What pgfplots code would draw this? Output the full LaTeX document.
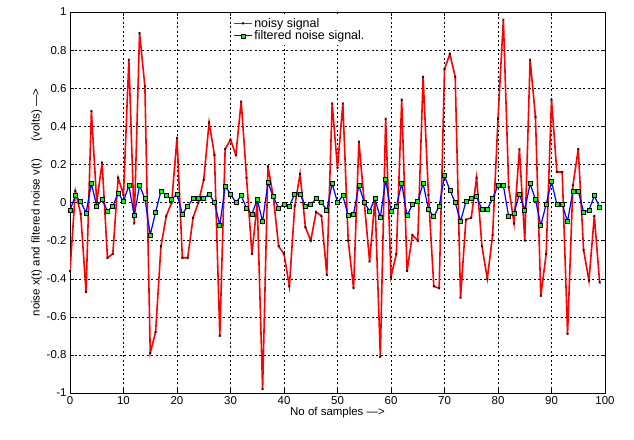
\documentclass[border=0pt]{standalone}
\usepackage{fontspec}
\setmainfont{Liberation Sans}
\usepackage{pgfplots}
\pgfplotsset{compat=1.18}
\usepackage{pgfplotstable}
\pgfplotstableread{
i noisy filt
0 -0.36 -0.04
1 0.06 0.035
2 -0.06 0.005
3 -0.47 -0.055
4 0.48 0.10
5 0.00 -0.02
6 0.21 0.015
7 -0.29 -0.045
8 -0.27 -0.02
9 0.13 0.05
10 0.04 0.005
11 0.75 0.09
12 -0.11 -0.07
13 0.89 0.09
14 0.61 0.02
15 -0.79 -0.17
16 -0.68 -0.05
17 -0.23 0.06
18 -0.07 0.04
19 0.00 0.015
20 0.34 0.045
21 -0.29 -0.06
22 -0.29 -0.02
23 -0.08 0.02
24 0.00 0.02
25 0.12 0.02
26 0.42 0.045
27 0.25 0.0
28 -0.70 -0.12
29 0.28 0.085
30 0.33 0.045
31 0.25 0.0
32 0.53 0.035
33 0.13 -0.03
34 -0.27 -0.06
35 0.00 0.015
36 -0.98 -0.10
37 0.19 0.105
38 0.03 0.03
39 -0.23 -0.03
40 -0.27 -0.01
41 -0.44 -0.02
42 -0.02 0.045
43 0.15 0.045
44 -0.13 -0.02
45 -0.20 -0.01
46 -0.05 0.02
47 -0.07 0.0
48 -0.38 -0.04
49 0.52 0.10
50 0.18 0.0
51 0.52 0.035
52 -0.20 -0.07
53 -0.45 -0.06
54 0.32 0.09
55 0.00 0.0
56 -0.31 -0.045
57 0.02 0.02
58 -0.81 -0.08
59 0.44 0.12
60 -0.39 -0.045
61 -0.27 -0.02
62 0.54 0.10
63 -0.36 -0.07
64 -0.17 -0.01
65 -0.20 0.005
66 0.66 0.10
67 0.04 -0.035
68 -0.44 -0.075
69 -0.45 -0.02
70 0.70 0.14
71 0.78 0.065
72 0.66 0.0
73 -0.50 -0.10
74 -0.09 0.005
75 -0.08 0.02
76 0.13 0.03
77 -0.23 -0.035
78 -0.40 -0.035
79 -0.17 0.02
80 0.44 0.09
81 0.96 0.09
82 0.08 -0.075
83 -0.11 -0.055
84 0.28 0.045
85 -0.20 -0.04
86 0.75 0.10
87 0.45 0.015
88 -0.49 -0.12
89 -0.27 -0.01
90 0.54 0.11
91 0.16 -0.01
92 0.16 -0.01
93 -0.69 -0.10
94 0.09 0.06
95 0.28 0.06
96 -0.25 -0.05
97 -0.41 -0.04
98 -0.07 0.035
99 -0.42 -0.025
}\datatable
\begin{document}
\begin{tikzpicture}
\begin{axis}[
  scale only axis,
  width=535bp, height=381bp,
  xmin=0, xmax=100, ymin=-1, ymax=1,
  xtick={0,10,...,100},
  ytick={-1,-0.8,-0.6,-0.4,-0.2,0,0.2,0.4,0.6,0.8,1},
  yticklabels={-1,-0.8,-0.6,-0.4,-0.2,0,0.2,0.4,0.6,0.8,1},
  /pgf/number format/assume math mode=true,
  tick align=inside,
  major tick length=4bp,
  grid=major,
  major grid style={black, thin, dash pattern=on 2bp off 2.5bp},
  axis line style={black, thin},
  tick style={black, thin},
  font=\fontsize{11.5}{13}\selectfont,
  tick label style={font=\fontsize{11.5}{13}\selectfont},
  xlabel={No of samples --->},
  ylabel={noise x(t) and filtered noise v(t)\quad\ \ (volts) --->},
  xlabel style={yshift=4bp},
  ylabel style={yshift=-2bp},
  legend style={at={(0.30,0.995)}, anchor=north west, draw=none, fill=white,
    font=\fontsize{12.5}{14}\selectfont, row sep=-2bp},
  legend cell align=left,
  legend image post style={},
]
\addplot[red, line width=1.6bp, mark=x, mark size=1.3bp, mark options={black, line width=0.6bp}]
  table[x=i, y=noisy] {\datatable};
\addlegendentry{noisy signal}
\addplot[blue, line width=1.2bp, mark=square*, mark size=2bp, mark options={fill=green, draw=black, line width=0.7bp}]
  table[x=i, y=filt] {\datatable};
\addlegendentry{filtered noise signal.}
\end{axis}
\path (current axis.south west) ++(-70bp,-47bp) coordinate (bl);
\path (current axis.north east) ++(29bp,12bp) coordinate (tr);
\useasboundingbox (bl) rectangle (tr);
\end{tikzpicture}
\end{document}
